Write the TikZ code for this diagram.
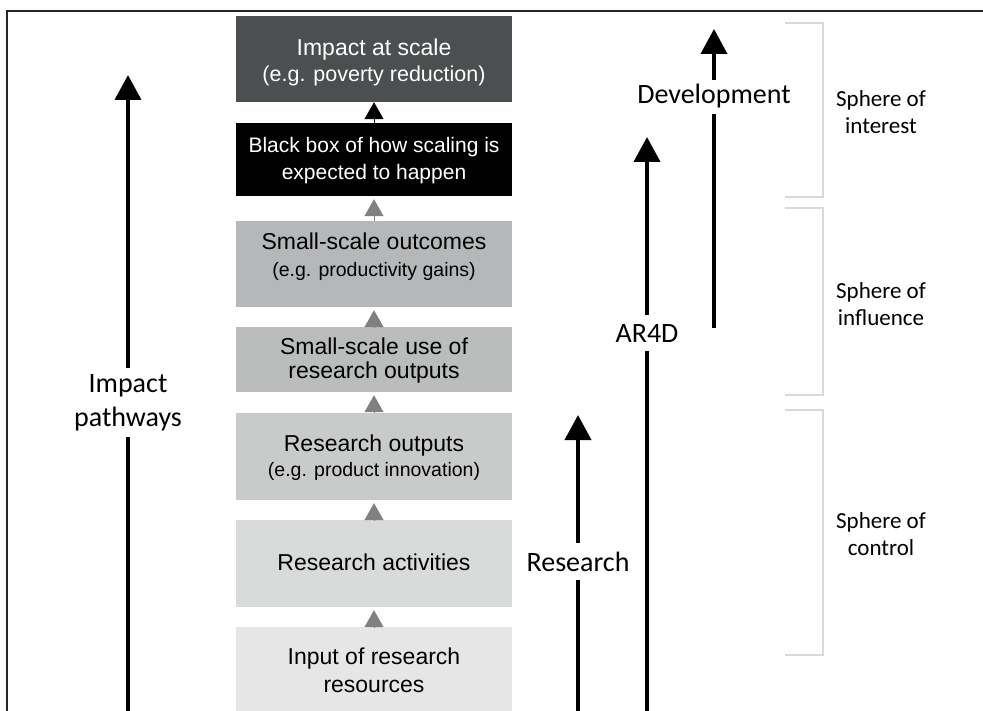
\documentclass[tikz,border=0pt]{standalone}
\usepackage{fontspec}
\setmainfont{Liberation Sans}
\newfontfamily\calfont{Carlito}
\usetikzlibrary{arrows.meta}

\definecolor{frameline}{HTML}{262626}
\definecolor{impactgray}{HTML}{4B4F50}
\definecolor{outcomegray}{HTML}{B5B7B8}
\definecolor{usegray}{HTML}{BBBDBD}
\definecolor{outputgray}{HTML}{C9CACA}
\definecolor{activitygray}{HTML}{D9DADA}
\definecolor{inputgray}{HTML}{E6E6E6}
\definecolor{linkgray}{HTML}{808080}
\definecolor{bracketgray}{HTML}{D9D9D9}

% smaller second line inside a box
\newcommand\egline[2][19.5]{{\fontsize{#1}{22}\selectfont #2}}

\begin{document}
\begin{tikzpicture}[x=1pt, y=-1pt,
  stage/.style={rectangle, draw=none, inner sep=0pt, minimum width=276pt,
    align=center, text=black, text depth=0pt},
  linkarrow/.style={line width=1pt, draw=linkgray,
    -{Triangle[width=19pt,length=17pt,fill=linkgray]}, shorten >=3pt},
  toparrow/.style={line width=1pt, draw=black,
    -{Triangle[width=19pt,length=17pt,fill=black]}},
  bigshaft/.style={line width=4pt, draw=black},
  bigarrow/.style={line width=4pt, draw=black,
    -{Triangle[width=26pt,length=25pt]}},
  biglabel/.style={font=\calfont\fontsize{28}{34}\selectfont, align=center,
    inner xsep=2pt},
  spherelabel/.style={font=\calfont\fontsize{23}{27}\selectfont, align=center,
    inner sep=0pt},
  bracket/.style={line width=1.5pt, draw=bracketgray},
  frame/.style={line width=2.5pt, draw=frameline}]

\useasboundingbox (0,0) rectangle (983,711);

% outer frame (top and left edges)
\draw[frame] (7,711) -- (7,11) -- (983,11);

% stages of the pathway (text height places the last baseline)
\node[stage, fill=impactgray, text=white, minimum height=86pt,
  text height=45pt, font=\fontsize{23}{25.5}\selectfont] (impact) at (374,59)
  {Impact at scale\\\egline[21.5]{(e.g. poverty reduction)}};
\node[stage, fill=black, text=white, minimum height=73pt,
  text height=41pt, font=\fontsize{21}{27}\selectfont] (blackbox) at (374,159.5)
  {Black box of how scaling is\\expected to happen};
\node[stage, fill=outcomegray, minimum height=86pt,
  text height=26pt, font=\fontsize{23}{27.5}\selectfont] (outcomes) at (374,264)
  {Small-scale outcomes\\\egline{(e.g. productivity gains)}};
\node[stage, fill=usegray, minimum height=65pt,
  text height=37pt, font=\fontsize{23}{24}\selectfont] (smalluse) at (374,359.5)
  {Small-scale use of\\research outputs};
\node[stage, fill=outputgray, minimum height=87pt,
  text height=39pt, font=\fontsize{23}{25}\selectfont] (outputs) at (374,456.5)
  {Research outputs\\\egline{(e.g. product innovation)}};
\node[stage, fill=activitygray, minimum height=87pt,
  text height=13pt, font=\fontsize{23}{27}\selectfont] (activities) at (374,563.5)
  {Research activities};
\node[stage, fill=inputgray, minimum height=86pt,
  text height=44pt, font=\fontsize{23}{28}\selectfont] (input) at (374,670)
  {Input of research\\resources};

% links between stages
\draw[toparrow] (blackbox.north) -- (impact.south);
\draw[linkarrow] (outcomes.north) -- (blackbox.south);
\draw[linkarrow] (smalluse.north) -- (outcomes.south);
\draw[linkarrow] (outputs.north) -- (smalluse.south);
\draw[linkarrow] (activities.north) -- (outputs.south);
\draw[linkarrow] (input.north) -- (activities.south);

% impact pathways
\coordinate (ipbase) at (128,711);
\coordinate (iptip) at (128,75);
\node[biglabel, anchor=north, inner ysep=6pt] (iplabel) at (128,368)
  {Impact\\pathways};
\draw[bigshaft] (ipbase) -- (iplabel.south);
\draw[bigarrow] (iplabel.north) -- (iptip);

% research
\coordinate (rbase) at (578,711);
\coordinate (rtip) at (578,415);
\node[biglabel, text height=20pt, text depth=0pt, inner ysep=8.5pt]
  (rlabel) at (578,561.5) {Research};
\draw[bigshaft] (rbase) -- (rlabel.south);
\draw[bigarrow] (rlabel.north) -- (rtip);

% AR4D
\coordinate (abase) at (647,711);
\coordinate (atip) at (647,137);
\node[biglabel, text height=20pt, text depth=0pt, inner ysep=8pt]
  (alabel) at (647,333) {AR4D};
\draw[bigshaft] (abase) -- (alabel.south);
\draw[bigarrow] (alabel.north) -- (atip);

% development
\coordinate (dbase) at (714,328);
\coordinate (dtip) at (714,29);
\node[biglabel, text height=20pt, text depth=6pt, inner ysep=4pt]
  (dlabel) at (714,97) {Development};
\draw[bigshaft] (dbase) -- (dlabel.south);
\draw[bigarrow] (dlabel.north) -- (dtip);

% spheres
\draw[bracket] (785,23) -- (823,23) -- (823,197) -- (785,197);
\draw[bracket] (785,208) -- (823,208) -- (823,395) -- (785,395);
\draw[bracket] (785,410) -- (823,410) -- (823,655) -- (785,655);
\node[spherelabel] (interest) at (881,112.5) {Sphere of\\interest};
\node[spherelabel] (influence) at (881,304.5) {Sphere of\\influence};
\node[spherelabel] (control) at (881,534.5) {Sphere of\\control};
\end{tikzpicture}
\end{document}
